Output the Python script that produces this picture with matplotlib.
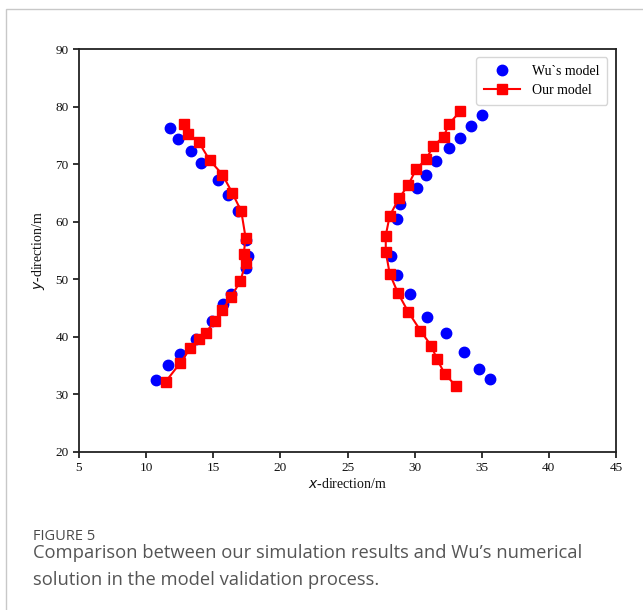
import matplotlib
matplotlib.use("Agg")
import numpy as np
import matplotlib.pyplot as plt
from matplotlib.patches import Rectangle

# --- DATA ---
wu_left_x = [10.76, 11.62, 12.50, 13.69, 14.93, 15.72, 16.35, 17.47, 17.59, 17.47,
             16.84, 16.10, 15.35, 14.11, 13.37, 12.37, 11.75]
wu_left_y = [32.5, 35.1, 37.0, 39.6, 42.8, 45.7, 47.5, 51.9, 54.0, 56.9,
             61.8, 64.7, 67.3, 70.2, 72.2, 74.4, 76.3]
wu_right_x = [35.60, 34.80, 33.66, 32.32, 30.92, 29.69, 28.69, 28.27, 28.69, 28.94,
              30.18, 30.83, 31.57, 32.56, 33.36, 34.23, 35.05]
wu_right_y = [32.6, 34.4, 37.3, 40.6, 43.4, 47.5, 50.8, 54.1, 60.5, 63.1,
              65.9, 68.2, 70.5, 72.8, 74.6, 76.6, 78.6]

our_left_x = [11.45, 12.55, 13.29, 13.93, 14.43, 15.10, 15.68, 16.35, 17.02, 17.41,
              17.27, 17.41, 17.09, 16.42, 15.68, 14.73, 13.93, 13.11, 12.79]
our_left_y = [32.2, 35.5, 38.0, 39.6, 40.7, 42.7, 44.7, 47.0, 49.7, 52.8,
              54.4, 57.2, 61.8, 65.0, 68.2, 70.7, 73.8, 75.3, 77.0]
our_right_x = [33.06, 32.24, 31.67, 31.25, 30.43, 29.51, 28.76, 28.14, 27.85, 27.85,
               28.14, 28.84, 29.51, 30.13, 30.88, 31.37, 32.17, 32.56, 33.41]
our_right_y = [31.5, 33.6, 36.1, 38.4, 41.1, 44.4, 47.6, 51.0, 54.8, 57.6,
               61.0, 64.1, 66.3, 69.2, 70.9, 73.1, 74.8, 77.0, 79.2]

x_ticks = [5, 10, 15, 20, 25, 30, 35, 40, 45]
y_ticks = [20, 30, 40, 50, 60, 70, 80, 90]

plt.rcParams['font.family'] = ['Liberation Serif', 'DejaVu Serif']
plt.rcParams['mathtext.fontset'] = 'dejavusans'

fig = plt.figure(figsize=(6.43, 6.10), dpi=100)

# outer panel border of the screenshot
fig.patches.append(Rectangle((6 / 643, -0.1), 1.1, 1.1 - 9 / 610,
                             transform=fig.transFigure, fill=False,
                             edgecolor='#c8c8c8', linewidth=1.0))

ax = fig.add_axes([79 / 643, 1 - 452 / 610, (616 - 79) / 643, (452 - 49) / 610])

# Wu's model (blue dots)
ax.plot(wu_left_x, wu_left_y, 'o', color='blue', markersize=7.5, label="Wu`s model")
ax.plot(wu_right_x, wu_right_y, 'o', color='blue', markersize=7.5)

# Our model (red squares + line), two separate branches
ax.plot(our_left_x, our_left_y, 's-', color='red', markersize=7.5, linewidth=1.5,
        label="Our model")
ax.plot(our_right_x, our_right_y, 's-', color='red', markersize=7.5, linewidth=1.5)

ax.set_xlim(5, 45)
ax.set_ylim(20, 90)
ax.set_xticks(x_ticks)
ax.set_yticks(y_ticks)
ax.tick_params(direction='out', length=4, width=1.2, labelsize=9.5, colors='#111111')
for sp in ax.spines.values():
    sp.set_linewidth(1.3)
    sp.set_color('#222222')

ax.set_xlabel(r'$\mathit{x}$-direction/m', fontsize=10, labelpad=2, color='#111111')
ax.set_ylabel(r'$\mathit{y}$-direction/m', fontsize=10, labelpad=6, color='#111111')

leg = ax.legend(loc='upper right', fontsize=10, frameon=True, fancybox=True,
                edgecolor='#cccccc', handlelength=2.6, borderpad=0.55,
                labelspacing=0.45, handletextpad=0.9, bbox_to_anchor=(0.997, 0.997))

# caption below the chart
fig.text(33 / 643, 1 - 537 / 610, 'FIGURE 5', fontsize=10.5, color='#4a4a4a',
         family='Open Sans', va='center', ha='left')
fig.text(33 / 643, 1 - 553 / 610,
         'Comparison between our simulation results and Wu\u2019s numerical',
         fontsize=13.2, color='#555555', family='Open Sans', va='center', ha='left')
fig.text(33 / 643, 1 - 580 / 610, 'solution in the model validation process.',
         fontsize=13.2, color='#555555', family='Open Sans', va='center', ha='left')

fig.savefig('out.png', dpi=100)
